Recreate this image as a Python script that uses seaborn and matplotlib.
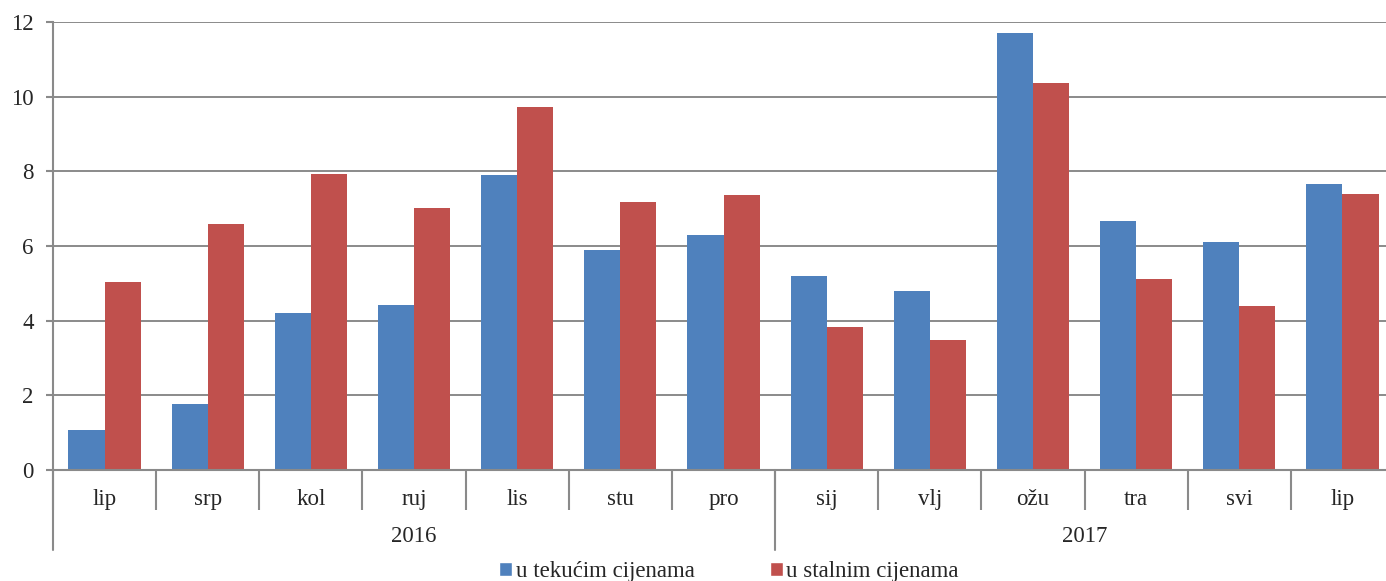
import numpy as np
import pandas as pd
import matplotlib.pyplot as plt
import matplotlib.transforms as mtransforms
from matplotlib.patches import Patch
import seaborn as sns

months = ['lip', 'srp', 'kol', 'ruj', 'lis', 'stu', 'pro',
          'sij', 'vlj', 'ožu', 'tra', 'svi', 'lip']
years = ['2016'] * 7 + ['2017'] * 6
tekuce = [1.08, 1.78, 4.20, 4.42, 7.89, 5.89, 6.29,
          5.19, 4.80, 11.70, 6.66, 6.11, 7.65]
stalne = [5.04, 6.59, 7.92, 7.02, 9.72, 7.19, 7.36,
          3.82, 3.47, 10.36, 5.11, 4.38, 7.38]
series_names = ['u tekućim cijenama', 'u stalnim cijenama']

blue = '#4F81BD'
red = '#C0504D'
grey = '#8a8a8a'
fs = 16.5

sns.set_theme(style='white')
plt.rcParams['font.family'] = ['Liberation Serif', 'DejaVu Serif']

# long table, unique key per period because 'lip' occurs twice
keys = [f'{y}-{m}' for y, m in zip(years, months)]
df = pd.DataFrame({
    'period': keys * 2,
    'value': tekuce + stalne,
    'serija': [series_names[0]] * len(keys) + [series_names[1]] * len(keys),
})

fig = plt.figure(figsize=(13.86, 5.81), dpi=100)
ax = fig.add_axes([53 / 1386, 111 / 581, 1341 / 1386, 448 / 581])

sns.barplot(data=df, x='period', y='value', hue='serija', order=keys,
            hue_order=series_names, palette=[blue, red], width=0.7,
            linewidth=0, saturation=1, legend=False, ax=ax)

ax.set_xlim(-0.5, len(keys) - 0.5)
ax.set_ylim(0, 12)
ax.set_yticks(np.arange(0, 13, 2))
ax.set_xlabel('')
ax.set_ylabel('')

ax.yaxis.grid(True, color=grey, linewidth=1.4)
ax.set_axisbelow(True)
for side in ['top', 'right']:
    ax.spines[side].set_visible(False)
for side in ['left', 'bottom']:
    ax.spines[side].set_color(grey)
    ax.spines[side].set_linewidth(1.5)

ax.tick_params(axis='y', length=5, width=1.5, color=grey, pad=9,
               labelsize=fs, left=True)

# month labels in the centre, separators at category boundaries
ax.set_xticks(range(len(keys)))
ax.set_xticklabels(months)
ax.set_xticks(np.arange(len(keys) + 1) - 0.5, minor=True)
ax.tick_params(axis='x', which='major', length=0, pad=13.5, labelsize=fs)
ax.tick_params(axis='x', which='minor', length=29, width=1.5, color=grey,
               bottom=True)

# year level
trans = mtransforms.blended_transform_factory(ax.transData, ax.transAxes)
year_list = list(dict.fromkeys(years))
start = 0
for yr in year_list:
    n = years.count(yr)
    ax.plot([start - 0.5, start - 0.5], [0, -80 / 448], transform=trans,
            color=grey, linewidth=1.5, clip_on=False)
    ax.text(start - 0.5 + n / 2, -67 / 448, yr, transform=trans,
            ha='center', va='center', fontsize=fs)
    start += n

handles = [Patch(facecolor=blue, label=series_names[0]),
           Patch(facecolor=red, label=series_names[1])]
fig.legend(handles=handles, loc='center', bbox_to_anchor=(729 / 1386, 9 / 581),
           ncol=2, frameon=False, fontsize=fs, handlelength=0.55,
           handleheight=0.55, handletextpad=0.15, columnspacing=3.3,
           borderaxespad=0, borderpad=0)

fig.savefig('out.png', dpi=100)
